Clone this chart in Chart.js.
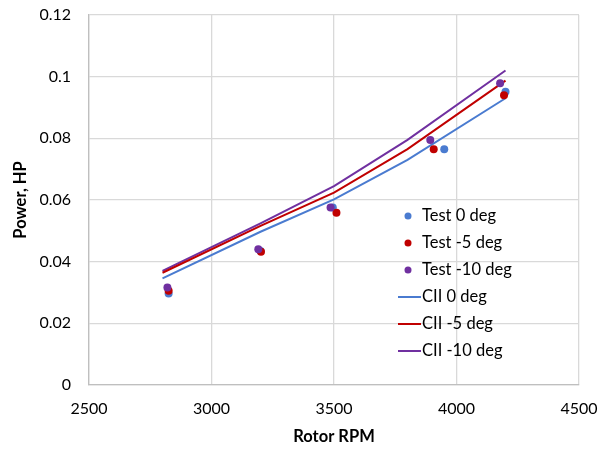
<!DOCTYPE html>
<html>
<head>
<meta charset="utf-8">
<script src="https://cdn.jsdelivr.net/npm/chart.js@4.4.0/dist/chart.umd.min.js"></script>
<style>
  html, body { margin: 0; padding: 0; background: #fff; }
  #wrap { width: 612px; height: 451px; }
</style>
</head>
<body>
<div id="wrap"><canvas id="chart" width="612" height="451"></canvas></div>
<script>
// test points (rpm, hp)
const test0Rpm = [2825, 3200, 3495, 3950, 4200];
const test0Hp = [0.0297, 0.0435, 0.0576, 0.0765, 0.0951];
const test5Rpm = [2825, 3202, 3510, 3907, 4194];
const test5Hp = [0.0306, 0.0432, 0.0559, 0.0765, 0.0940];
const test10Rpm = [2820, 3191, 3486, 3893, 4178];
const test10Hp = [0.0316, 0.0440, 0.0576, 0.0795, 0.0979];

// CII predictions
const ciiRpm = [2800, 3200, 3500, 3800, 4200];
const cii0Hp = [0.0346, 0.0497, 0.0602, 0.0730, 0.0930];
const cii5Hp = [0.0364, 0.0516, 0.0624, 0.0765, 0.0987];
const cii10Hp = [0.0370, 0.0524, 0.0645, 0.0795, 0.1020];

const xTicks = [2500, 3000, 3500, 4000, 4500];
const yTicks = [0, 0.02, 0.04, 0.06, 0.08, 0.1, 0.12];

const BLUE = '#4a7bd0';
const RED = '#c00000';
const PURPLE = '#7030a0';
const FONT = 'Lato, "Open Sans", sans-serif';

function pts(xs, ys) {
    return xs.map((x, i) => ({ x: x, y: ys[i] }));
}

function testSet(label, xs, ys, color, order) {
    return {
        label: label, data: pts(xs, ys), showLine: false,
        backgroundColor: color, borderColor: color, borderWidth: 0,
        pointRadius: 4, pointHoverRadius: 4, order: order, kind: 'point'
    };
}

function ciiSet(label, ys, color) {
    return {
        label: label, data: pts(ciiRpm, ys), showLine: true,
        borderColor: color, backgroundColor: color, borderWidth: 2,
        pointRadius: 0, tension: 0, order: 10, kind: 'line'
    };
}

// legend drawn inside the plot, like the original
const boxLegend = {
    id: 'boxLegend',
    afterDraw(chart) {
        const ctx = chart.ctx;
        const x0 = 398, y0 = 216, rowH = 27;
        ctx.save();
        ctx.font = '16.5px ' + FONT;
        ctx.textBaseline = 'middle';
        ctx.fillStyle = '#000';
        chart.data.datasets.forEach((ds, i) => {
            const y = y0 + i * rowH;
            if (ds.kind === 'point') {
                ctx.beginPath();
                ctx.arc(x0 + 10, y, 3.5, 0, Math.PI * 2);
                ctx.fillStyle = ds.backgroundColor;
                ctx.fill();
                ctx.fillStyle = '#000';
                ctx.fillText(ds.label, x0 + 24, y);
            } else {
                ctx.beginPath();
                ctx.moveTo(x0, y);
                ctx.lineTo(x0 + 23, y);
                ctx.strokeStyle = ds.borderColor;
                ctx.lineWidth = 2;
                ctx.stroke();
                ctx.fillText(ds.label, x0 + 24, y);
            }
        });
        ctx.restore();
    }
};

const config = {
    type: 'scatter',
    data: {
        datasets: [
            testSet('Test 0 deg', test0Rpm, test0Hp, BLUE, 3),
            testSet('Test -5 deg', test5Rpm, test5Hp, RED, 2),
            testSet('Test -10 deg', test10Rpm, test10Hp, PURPLE, 1),
            ciiSet('CII 0 deg', cii0Hp, BLUE),
            ciiSet('CII -5 deg', cii5Hp, RED),
            ciiSet('CII -10 deg', cii10Hp, PURPLE)
        ]
    },
    options: {
        responsive: false,
        animation: false,
        layout: { padding: { top: 15, right: 33, left: 0, bottom: 0 } },
        plugins: { legend: { display: false }, tooltip: { enabled: false } },
        scales: {
            x: {
                type: 'linear', min: 2500, max: 4500,
                afterBuildTicks: (s) => { s.ticks = xTicks.map(v => ({ value: v })); },
                afterFit: (s) => { s.height = 66; s.paddingLeft = 0; s.paddingRight = 0; },
                grid: { color: '#d9d9d9', lineWidth: 1.3, drawTicks: false },
                border: { color: '#bfbfbf', width: 1.3 },
                ticks: {
                    font: { family: FONT, size: 16 }, color: '#000', padding: 14,
                    maxRotation: 0, callback: (v) => String(v)
                },
                title: {
                    display: true, text: 'Rotor RPM', color: '#000',
                    font: { family: FONT, size: 16.5, weight: 'bold' }, padding: { top: 5 }
                }
            },
            y: {
                type: 'linear', min: 0, max: 0.12,
                afterBuildTicks: (s) => { s.ticks = yTicks.map(v => ({ value: v })); },
                afterFit: (s) => { s.width = 89; s.paddingTop = 0; s.paddingBottom = 0; },
                grid: { color: '#d9d9d9', lineWidth: 1.3, drawTicks: false },
                border: { color: '#bfbfbf', width: 1.3 },
                ticks: {
                    font: { family: FONT, size: 16 }, color: '#000', padding: 18,
                    callback: (v) => String(+v.toFixed(2))
                },
                title: {
                    display: true, text: 'Power, HP', color: '#000',
                    font: { family: FONT, size: 16.5, weight: 'bold' }, padding: { top: 11, bottom: 4 }
                }
            }
        }
    },
    plugins: [boxLegend]
};

new Chart(document.getElementById('chart').getContext('2d'), config);
</script>
</body>
</html>
